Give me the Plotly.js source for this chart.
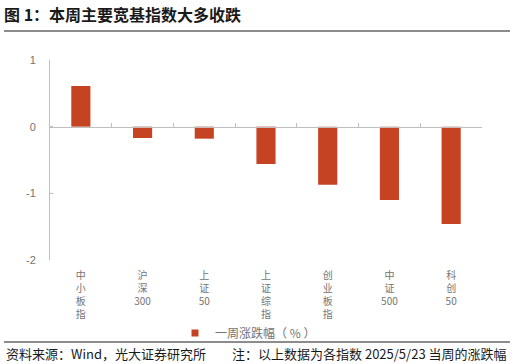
<!DOCTYPE html>
<html>
<head>
<meta charset="utf-8">
<script src="https://cdn.plot.ly/plotly-3.0.1.min.js"></script>
<style>html,body{margin:0;padding:0;background:#fff;}#chart{width:516px;height:364px;}</style>
</head>
<body>
<div id="chart"></div>
<script>
const categories = ["中小板指", "沪深300", "上证50", "上证综指", "创业板指", "中证500", "科创50"];
const tickLabels = ["中<br>小<br>板<br>指", "沪<br>深<br>300", "上<br>证<br>50", "上<br>证<br>综<br>指", "创<br>业<br>板<br>指", "中<br>证<br>500", "科<br>创<br>50"];
const weeklyChange = [0.61, -0.17, -0.18, -0.56, -0.87, -1.10, -1.46];
const seriesName = "一周涨跌幅（ % ）";
const yTicks = [-2, -1, 0, 1];

const cjk = '"Noto Sans CJK SC", "Noto Sans", sans-serif';
const gray = "#737373";
const axisGray = "#bfbfbf";
const barColor = "#c54322";

const barTrace = {
  type: "bar",
  x: categories,
  y: weeklyChange,
  name: seriesName,
  marker: {color: barColor, line: {width: 0}},
  width: 0.31,
  showlegend: false,
  hoverinfo: "x+y"
};

// legend entry with a small square key, like the reference
const legendTrace = {
  type: "scatter",
  mode: "markers",
  x: [null],
  y: [null],
  name: seriesName,
  marker: {symbol: "square", size: 7, color: barColor},
  showlegend: true,
  hoverinfo: "skip"
};

const layout = {
  width: 516,
  height: 364,
  margin: {l: 50, r: 34, t: 60, b: 104},
  paper_bgcolor: "#ffffff",
  plot_bgcolor: "#ffffff",
  font: {family: cjk, color: gray, size: 11},
  title: {
    text: "<b>图 1：本周主要宽基指数大多收跌</b>",
    xref: "container", yref: "container",
    x: 4/516, xanchor: "left",
    y: 1 - 15/364, yanchor: "middle",
    font: {family: cjk, size: 16, color: "#1a1a1a"}
  },
  xaxis: {
    type: "category",
    anchor: "free",
    position: 2/3,
    showline: true,
    linecolor: axisGray,
    linewidth: 1.5,
    ticks: "inside",
    tickson: "boundaries",
    ticklen: 4,
    tickcolor: axisGray,
    tickvals: categories,
    ticktext: tickLabels,
    tickangle: 0,
    ticklabelstandoff: 139,
    tickfont: {family: cjk, size: 10, color: gray},
    showgrid: false,
    zeroline: false,
    fixedrange: true
  },
  yaxis: {
    range: [-2, 1],
    tickvals: yTicks,
    ticktext: yTicks.map(String),
    showline: true,
    linecolor: axisGray,
    linewidth: 1,
    ticks: "inside",
    ticklen: 3,
    tickcolor: axisGray,
    ticklabelstandoff: 11,
    tickfont: {family: '"Liberation Sans", Arial, sans-serif', size: 11, color: gray},
    showgrid: false,
    zeroline: false,
    fixedrange: true
  },
  showlegend: true,
  legend: {
    orientation: "h",
    x: (248 - 50)/432, xanchor: "center",
    y: (260 - 333)/200, yanchor: "middle",
    font: {family: cjk, size: 12, color: gray},
    itemwidth: 30,
    bgcolor: "rgba(0,0,0,0)"
  },
  shapes: [
    {type: "line", xref: "paper", yref: "paper", x0: (4-50)/432, x1: (510-50)/432, y0: (260-31)/200, y1: (260-31)/200, line: {color: "#666666", width: 1.5}},
    {type: "line", xref: "paper", yref: "paper", x0: (4-50)/432, x1: (510-50)/432, y0: (260-342)/200, y1: (260-342)/200, line: {color: "#666666", width: 1.5}}
  ],
  annotations: [
    {text: "资料来源：Wind，光大证券研究所", xref: "paper", yref: "paper", x: (4-50)/432, xanchor: "left", y: (260-353)/200, yanchor: "middle", showarrow: false, font: {family: cjk, size: 13, color: "#1a1a1a"}},
    {text: "注：以上数据为各指数 2025/5/23 当周的涨跌幅", xref: "paper", yref: "paper", x: (509-50)/432, xanchor: "right", y: (260-353)/200, yanchor: "middle", showarrow: false, font: {family: cjk, size: 13, color: "#1a1a1a"}}
  ]
};

Plotly.newPlot("chart", [barTrace, legendTrace], layout, {displayModeBar: false, staticPlot: true});
</script>
</body>
</html>
